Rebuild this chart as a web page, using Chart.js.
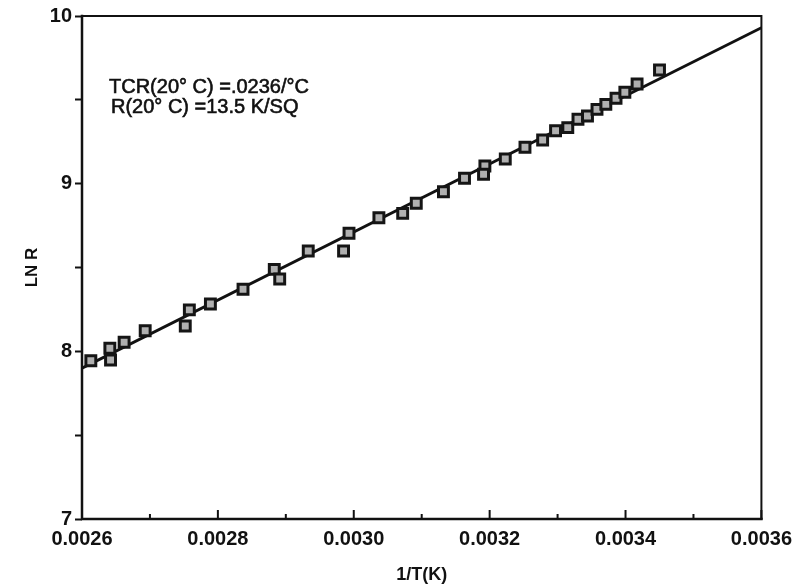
<!DOCTYPE html>
<html>
<head>
<meta charset="utf-8">
<script src="https://cdn.jsdelivr.net/npm/chart.js@4/dist/chart.umd.min.js"></script>
<style>
  html, body { margin: 0; padding: 0; background: #fff; }
  #wrap { width: 800px; height: 586px; }
</style>
</head>
<body>
<div id="wrap"><canvas id="chart" width="800" height="586"></canvas></div>
<script>
  // measured points: reciprocal temperature vs log resistance
  const invTemp = [
    0.002613, 0.002641, 0.002642, 0.002662, 0.002693, 0.002752, 0.002758, 0.002789,
    0.002837, 0.002883, 0.002891, 0.002933, 0.002985, 0.002993, 0.003037, 0.003072,
    0.003092, 0.003132, 0.003163, 0.003193, 0.003191, 0.003223, 0.003252, 0.003278,
    0.003297, 0.003315, 0.003330, 0.003344, 0.003358, 0.003371, 0.003386, 0.003399,
    0.003417, 0.003450
  ];
  const lnR = [
    7.944, 8.018, 7.948, 8.054, 8.123, 8.151, 8.247, 8.282,
    8.370, 8.489, 8.431, 8.598, 8.598, 8.704, 8.797, 8.823,
    8.883, 8.952, 9.032, 9.105, 9.056, 9.147, 9.217, 9.260,
    9.316, 9.334, 9.384, 9.404, 9.443, 9.473, 9.509, 9.545,
    9.594, 9.678
  ];

  // straight-line fit, end to end
  const fitX = [0.0026, 0.0036];
  const fitY = [7.90, 9.93];

  const xTickValues = [0.0026, 0.0028, 0.0030, 0.0032, 0.0034, 0.0036];
  const xMinorValues = [0.0027, 0.0029, 0.0031, 0.0033, 0.0035];
  const yTickValues = [7, 7.5, 8, 8.5, 9, 9.5, 10];

  const noteLines = ["TCR(20\u00b0 C) =.0236/\u00b0C", "R(20\u00b0 C) =13.5 K/SQ"];

  const FONT = '"Liberation Sans", Arial, sans-serif';
  const INK = "#111";

  const framePlugin = {
    id: "frame",
    afterDraw(chart) {
      const { ctx, chartArea, scales } = chart;
      const { left, right, top, bottom } = chartArea;
      ctx.save();
      ctx.strokeStyle = INK;
      ctx.lineCap = "square";

      // top and right edges a little lighter than the axes
      ctx.lineWidth = 2;
      ctx.beginPath();
      ctx.moveTo(left, top);
      ctx.lineTo(right, top);
      ctx.lineTo(right, bottom);
      ctx.stroke();

      ctx.lineWidth = 2.5;
      ctx.beginPath();
      ctx.moveTo(left, top);
      ctx.lineTo(left, bottom);
      ctx.lineTo(right, bottom);
      ctx.stroke();

      // x ticks point up into the plot
      ctx.lineWidth = 2;
      ctx.lineCap = "butt";
      xTickValues.forEach((v) => {
        const px = scales.x.getPixelForValue(v);
        ctx.beginPath();
        ctx.moveTo(px, bottom);
        ctx.lineTo(px, bottom - 9);
        ctx.stroke();
      });
      xMinorValues.forEach((v) => {
        const px = scales.x.getPixelForValue(v);
        ctx.beginPath();
        ctx.moveTo(px, bottom);
        ctx.lineTo(px, bottom - 5);
        ctx.stroke();
      });

      // two-line note, stroked lightly so it reads heavier
      ctx.fillStyle = INK;
      ctx.lineWidth = 0.6;
      ctx.font = "20px " + FONT;
      ctx.textBaseline = "middle";
      ctx.fillText(noteLines[0], left + 27, top + 71);
      ctx.strokeText(noteLines[0], left + 27, top + 71);
      ctx.fillText(noteLines[1], left + 29, top + 91);
      ctx.strokeText(noteLines[1], left + 29, top + 91);
      ctx.restore();
    },
  };

  new Chart(document.getElementById("chart"), {
    type: "scatter",
    data: {
      datasets: [
        {
          label: "data",
          data: invTemp.map((x, i) => ({ x: x, y: lnR[i] })),
          pointStyle: "rect",
          pointRadius: 7,
          backgroundColor: "#b0b0b0",
          borderColor: "#151515",
          borderWidth: 3,
        },
        {
          label: "fit",
          data: fitX.map((x, i) => ({ x: x, y: fitY[i] })),
          showLine: true,
          pointRadius: 0,
          borderColor: INK,
          borderWidth: 3,
        },
      ],
    },
    options: {
      responsive: false,
      animation: false,
      layout: { padding: { top: 16, right: 35, left: 0, bottom: 0 } },
      plugins: {
        legend: { display: false },
        tooltip: { enabled: false },
      },
      scales: {
        x: {
          type: "linear",
          min: 0.0026,
          max: 0.0036,
          afterBuildTicks: (scale) => {
            scale.ticks = xTickValues.map((v) => ({ value: v }));
          },
          afterFit: (scale) => {
            scale.height = 67;
          },
          grid: { display: false, drawTicks: false },
          border: { display: false },
          ticks: {
            autoSkip: false,
            maxRotation: 0,
            padding: 8,
            color: INK,
            font: { family: FONT, size: 20, weight: "bold" },
            callback: (v) => Number(v).toFixed(4),
          },
          title: {
            display: true,
            text: "1/T(K)",
            color: INK,
            font: { family: FONT, size: 18, weight: "bold" },
            padding: { top: 0, bottom: 0 },
          },
        },
        y: {
          min: 7,
          max: 10,
          afterBuildTicks: (scale) => {
            scale.ticks = yTickValues.map((v) => ({ value: v }));
          },
          afterFit: (scale) => {
            scale.width = 82;
          },
          grid: {
            drawOnChartArea: false,
            drawTicks: true,
            tickLength: 7,
            tickColor: INK,
            tickWidth: 2,
          },
          border: { display: false },
          ticks: {
            autoSkip: false,
            padding: 3,
            color: INK,
            font: { family: FONT, size: 20, weight: "bold" },
            callback: (v) => (Number.isInteger(v) ? String(v) : ""),
          },
          title: {
            display: true,
            text: "LN R",
            color: INK,
            font: { family: FONT, size: 17, weight: "bold" },
            padding: { top: 22, bottom: 0 },
          },
        },
      },
    },
    plugins: [framePlugin],
  });
</script>
</body>
</html>
